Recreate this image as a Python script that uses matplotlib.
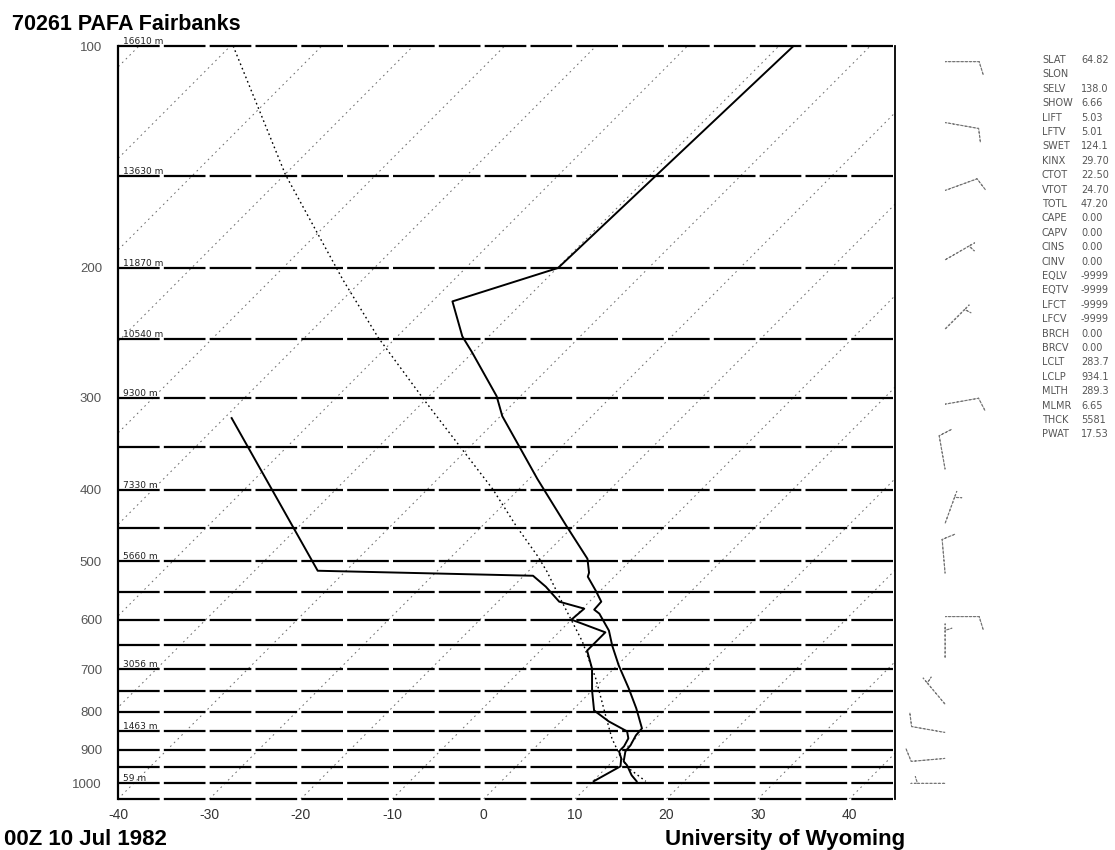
import numpy as np
import matplotlib
matplotlib.use("Agg")
import matplotlib.pyplot as plt
from matplotlib.ticker import NullLocator

plt.rcParams['font.family'] = ['Liberation Sans', 'DejaVu Sans']
plt.rcParams['lines.scale_dashes'] = False

# ---- sounding: temperature (hPa, degC) ----
temp_p = [100, 200, 222.0, 247.6, 260.2, 298.5, 317.7, 348.8, 386.5, 447.5,
          495.9, 518.0, 524.5, 547.9, 567.0, 581.3, 588.6, 620.6, 650.4, 692.2,
          743.6, 791.3, 842.2, 860.8, 888.0, 904.8, 933.4, 945.1, 975.1, 993.5]
temp_c = [-48.4, -49.9, -57.8, -52.9, -50.1, -42.6, -39.8, -34.7, -29.1, -20.8,
          -14.9, -13.2, -12.9, -10.5, -8.7, -8.6, -7.6, -4.7, -2.7, 0.2,
          3.8, 6.8, 9.6, 9.7, 10.2, 10.3, 11.2, 12.0, 13.6, 14.8]

# ---- sounding: dewpoint (hPa, degC) ----
dwpt_p = [319.6, 514.8, 522.9, 541.1, 567.0, 579.5, 599.7, 624.0, 660.6, 698.7,
          748.2, 796.3, 824.0, 850.1, 868.8, 890.7, 904.8, 924.7, 948.1, 993.5]
dwpt_c = [-69.2, -43.1, -19.0, -16.4, -13.3, -9.8, -10.0, -4.9, -4.9, -2.4,
          0.0, 2.4, 5.2, 8.3, 9.2, 9.6, 9.6, 10.6, 11.4, 10.1]

# ---- lifted parcel path (hPa, degC) ----
parcel_p = [100, 149.5, 207.3, 248.4, 303.1, 348.8, 398.8, 447.5, 491.3, 516.4,
            556.5, 603.5, 642.3, 720.8, 808.7, 868.8, 924.7, 954.0, 993.5]
parcel_c = [-109.7, -89.9, -72.2, -62.0, -49.9, -41.2, -32.9, -26.3, -20.7, -17.9,
            -14.0, -9.7, -6.4, -0.9, 4.2, 7.4, 10.6, 12.5, 15.8]

# ---- geopotential heights of standard levels ----
height_p = [100, 150, 200, 250, 300, 400, 500, 700, 850, 1000]
height_lbl = ['16610 m', '13630 m', '11870 m', '10540 m', '9300 m',
              '7330 m', '5660 m', '3056 m', '1463 m', '59 m']

# ---- winds (hPa, direction deg, speed kt) ----
wind_p = [105, 127, 157, 195, 242, 306, 375, 444, 519, 594, 676, 781, 853, 925, 1000]
wind_dir = [90, 100, 70, 60, 45, 80, 350, 20, 355, 90, 0, 320, 280, 265, 270]
wind_spd = [10, 10, 10, 5, 5, 10, 10, 5, 10, 10, 5, 5, 10, 10, 5]

# ---- station information and sounding indices ----
index_names = ['SLAT', 'SLON', 'SELV', 'SHOW', 'LIFT', 'LFTV', 'SWET', 'KINX', 'CTOT',
               'VTOT', 'TOTL', 'CAPE', 'CAPV', 'CINS', 'CINV', 'EQLV', 'EQTV', 'LFCT',
               'LFCV', 'BRCH', 'BRCV', 'LCLT', 'LCLP', 'MLTH', 'MLMR', 'THCK', 'PWAT']
index_values = ['64.82', '', '138.0', '6.66', '5.03', '5.01', '124.1', '29.70', '22.50',
                '24.70', '47.20', '0.00', '0.00', '0.00', '0.00', '-9999', '-9999', '-9999',
                '-9999', '0.00', '0.00', '283.7', '934.1', '289.3', '6.65', '5581', '17.53']

pressure_ticks = [100, 200, 300, 400, 500, 600, 700, 800, 900, 1000]
temp_ticks = [-40, -30, -20, -10, 0, 10, 20, 30, 40]
isotherms = list(range(-130, 50, 10))
isobars = list(range(100, 1051, 50))

P_TOP, P_BOT = 100.0, 1050.0
T_MIN, T_MAX = -40.0, 45.0
SKEW = 35.0  # degC of shift per unit of ln(p)


def skew_x(t, p):
    return np.asarray(t, float) + SKEW * np.log(P_BOT / np.asarray(p, float))


W_PX, H_PX = 1115, 850
fig = plt.figure(figsize=(W_PX / 100, H_PX / 100), dpi=100)
ax = fig.add_axes([118 / W_PX, 51 / H_PX, 777 / W_PX, 753 / H_PX])
ax.set_yscale('log')
ax.set_ylim(P_BOT, P_TOP)
ax.set_xlim(T_MIN, T_MAX)

# isotherms
for t in isotherms:
    pp = np.array([P_BOT, P_TOP])
    ax.plot(skew_x([t, t], pp), pp, color='#6a6a6a', lw=0.7,
            linestyle=(0, (1.2, 2.6)), zorder=1)

# isobars
for p in isobars:
    ax.axhline(p, color='black', lw=1.6, linestyle=(0, (30, 3)),
               clip_on=False, zorder=2)

# parcel, dewpoint, temperature
ax.plot(skew_x(parcel_c, parcel_p), parcel_p, color='black', lw=1.0,
        linestyle=(0, (1.2, 2.2)), zorder=3)
ax.plot(skew_x(dwpt_c, dwpt_p), dwpt_p, color='black', lw=1.4, zorder=4)
ax.plot(skew_x(temp_c, temp_p), temp_p, color='black', lw=1.4, zorder=4)

# height labels on the standard levels
ytrans = ax.get_yaxis_transform()
for p, lbl in zip(height_p, height_lbl):
    ax.text(0.006, p, lbl, transform=ytrans, fontsize=6.5, color='#222222',
            va='bottom', ha='left', family='DejaVu Sans', zorder=5)

ax.set_yticks(pressure_ticks)
ax.set_yticklabels([str(p) for p in pressure_ticks])
ax.yaxis.set_minor_locator(NullLocator())
ax.set_xticks(temp_ticks)
ax.set_xticklabels([f"{t}" for t in temp_ticks])
ax.tick_params(axis='y', length=0, pad=11.5, labelsize=9.5, labelcolor='#555555')
ax.tick_params(axis='x', length=0, pad=6.5, labelsize=10, labelcolor='#333333')
for side in ('top', 'bottom'):
    ax.spines[side].set_visible(False)
ax.spines['left'].set_linewidth(1.6)
ax.spines['right'].set_linewidth(1.3)

# wind barbs column
bax = fig.add_axes([900 / W_PX, 51 / H_PX, 110 / W_PX, 753 / H_PX])
bax.set_yscale('log')
bax.set_ylim(P_BOT, P_TOP)
bax.set_xlim(0, 1)
bax.axis('off')
wd = np.deg2rad(wind_dir)
u = -np.asarray(wind_spd) * np.sin(wd)
v = -np.asarray(wind_spd) * np.cos(wd)
bax.barbs(np.full(len(wind_p), 0.41), wind_p, u, v, length=7,
          color='#777777', linewidth=0.8, linestyle=(0, (1.5, 1.5)))

# titles
fig.text(12 / W_PX, 1 - 24.5 / H_PX, '70261 PAFA Fairbanks', fontsize=15.5,
         fontweight='bold', va='center', ha='left')
fig.text(4 / W_PX, 1 - 845 / H_PX, '00Z 10 Jul 1982', fontsize=16,
         fontweight='bold', va='baseline', ha='left')
fig.text(905 / W_PX, 1 - 845 / H_PX, 'University of Wyoming', fontsize=16,
         fontweight='bold', va='baseline', ha='right')

# station indices
for i, (name, val) in enumerate(zip(index_names, index_values)):
    y = 1 - (60 + 14.4 * i) / H_PX
    fig.text(1042 / W_PX, y, name, fontsize=7, color='#555555', va='center',
             family='DejaVu Sans')
    fig.text(1081 / W_PX, y, val, fontsize=7, color='#555555', va='center',
             family='DejaVu Sans')

fig.savefig('out.png', dpi=100)
